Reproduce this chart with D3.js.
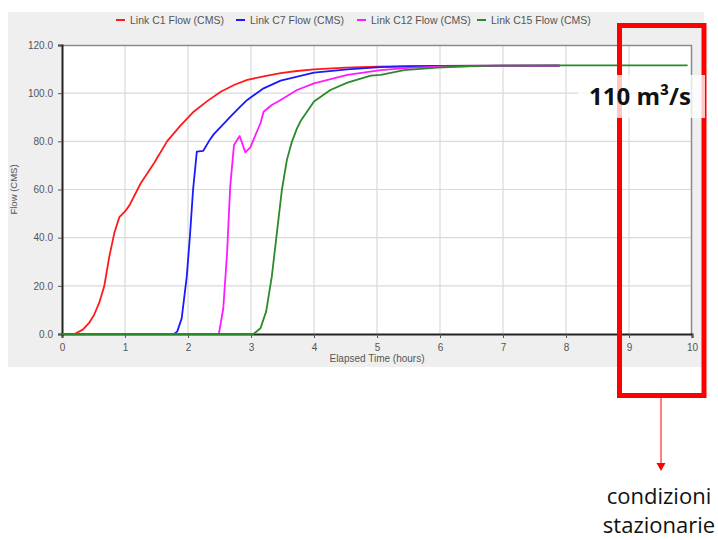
<!DOCTYPE html>
<html>
<head>
<meta charset="utf-8">
<script src="https://cdn.jsdelivr.net/npm/d3@7"></script>
<style>
  body { margin: 0; background: #fff; }
  svg { display: block; }
</style>
</head>
<body>
<div id="chart"></div>
<script>
// Series data
// ==============================
var seriesNames = ["Link C1 Flow (CMS)", "Link C7 Flow (CMS)", "Link C12 Flow (CMS)", "Link C15 Flow (CMS)"];
var seriesColors = ["#ff1a1a", "#1a1aff", "#ff1aff", "#2a8a2a"];

var c1Time = [0, 0.2, 0.33, 0.43, 0.51, 0.59, 0.67, 0.75, 0.83, 0.91, 1.0, 1.07, 1.25, 1.46, 1.67, 1.88, 2.09, 2.31, 2.52, 2.73, 2.94, 3.2, 3.47, 3.73, 4.0, 4.5, 5.0, 5.5, 6.0, 7.0, 7.9];
var c1Flow = [0, 0, 1.8, 4.6, 8, 12.9, 19.8, 32, 41.9, 48.5, 50.9, 53.4, 62.6, 70.9, 80.1, 86.5, 92.3, 96.8, 100.6, 103.4, 105.5, 107, 108.3, 109.2, 109.9, 110.6, 111, 111.2, 111.3, 111.4, 111.4];

var c7Time = [0, 1.78, 1.83, 1.9, 1.98, 2.03, 2.08, 2.14, 2.24, 2.35, 2.41, 2.52, 2.67, 2.83, 2.94, 3.2, 3.47, 4.0, 4.53, 5.06, 5.5, 6.0, 7.0, 7.9];
var c7Flow = [0, 0, 1.1, 6.5, 23.8, 40.4, 59.8, 75.7, 76, 80.8, 83, 86, 90.2, 94.4, 97.2, 102, 105.2, 108.5, 109.9, 110.8, 111.1, 111.3, 111.4, 111.4];

var c12Time = [0, 2.49, 2.56, 2.62, 2.67, 2.73, 2.82, 2.91, 2.99, 3.07, 3.15, 3.2, 3.33, 3.47, 3.73, 4.0, 4.53, 5.06, 5.5, 6.0, 7.0, 7.9];
var c12Flow = [0, 0, 10.7, 33.5, 61.2, 78.5, 82.2, 75.4, 77.5, 82.6, 87.5, 92.3, 95.1, 97.2, 101.3, 104.1, 107.6, 109.6, 110.5, 111, 111.3, 111.4];

var c15Time = [0, 3.04, 3.15, 3.24, 3.33, 3.41, 3.49, 3.57, 3.65, 3.73, 3.79, 4.0, 4.26, 4.53, 4.9, 5.06, 5.43, 5.96, 6.49, 7.0, 8.0, 9.0, 9.93];
var c15Flow = [0, 0, 2.4, 9.3, 23.8, 41.8, 59.8, 72.3, 79.9, 85.4, 88.5, 96.5, 101.3, 104.4, 107.3, 107.6, 109.6, 110.6, 111.2, 111.4, 111.5, 111.5, 111.5];

var xTicks = [0, 1, 2, 3, 4, 5, 6, 7, 8, 9, 10];
var yTicks = [0, 20, 40, 60, 80, 100, 120];

var annotationValue = "110 m³/s";
var annotationText = ["condizioni", "stazionarie"];

var seriesData = [
  c1Time.map((t, i) => ({ t: t, v: c1Flow[i] })),
  c7Time.map((t, i) => ({ t: t, v: c7Flow[i] })),
  c12Time.map((t, i) => ({ t: t, v: c12Flow[i] })),
  c15Time.map((t, i) => ({ t: t, v: c15Flow[i] }))
];

// SVG area
// ==============================
var svgWidth = 718;
var svgHeight = 540;

var margin = { top: 45, right: 26, bottom: 206, left: 62 };
var width = 692 - margin.left;
var height = 334 - margin.top;

var svg = d3.select("#chart")
  .append("svg")
  .attr("width", svgWidth)
  .attr("height", svgHeight);

// gray panel behind the chart
svg.append("rect")
  .attr("x", 8)
  .attr("y", 12)
  .attr("width", 696)
  .attr("height", 355)
  .attr("fill", "#efefef");

var chartGroup = svg.append("g")
  .attr("transform", `translate(${margin.left}, ${margin.top})`);

// Scales
// ==============================
var xScale = d3.scaleLinear().domain([0, 10]).range([0, width]);
var yScale = d3.scaleLinear().domain([0, 120]).range([height, 0]);

chartGroup.append("rect")
  .attr("width", width)
  .attr("height", height)
  .attr("fill", "#fff");

// Grid lines
chartGroup.append("g")
  .selectAll("line")
  .data(xTicks.slice(1, -1))
  .join("line")
  .attr("x1", d => xScale(d)).attr("x2", d => xScale(d))
  .attr("y1", 0).attr("y2", height)
  .attr("stroke", "#dadada")
  .attr("stroke-width", 1.2);

chartGroup.append("g")
  .selectAll("line")
  .data(yTicks.slice(1, -1))
  .join("line")
  .attr("x1", 0).attr("x2", width)
  .attr("y1", d => yScale(d)).attr("y2", d => yScale(d))
  .attr("stroke", "#dadada")
  .attr("stroke-width", 1.2);

// top and right frame
chartGroup.append("path")
  .attr("d", `M0,0.5H${width - 0.5}V${height}`)
  .attr("fill", "none")
  .attr("stroke", "#8a8a8a")
  .attr("stroke-width", 1.5);

// Axes
// ==============================
var xAxis = d3.axisBottom(xScale).tickValues(xTicks).tickSize(4).tickPadding(6).tickFormat(d3.format("d"));
var yAxis = d3.axisLeft(yScale).tickValues(yTicks).tickSize(4).tickPadding(5).tickFormat(d3.format(".1f"));

var xAxisG = chartGroup.append("g")
  .attr("transform", `translate(0, ${height})`)
  .call(xAxis);

var yAxisG = chartGroup.append("g")
  .call(yAxis);

[xAxisG, yAxisG].forEach(function(g) {
  g.select(".domain").attr("stroke", "#222").attr("stroke-width", 2);
  g.selectAll(".tick line").attr("stroke", "#555");
  g.selectAll(".tick text")
    .attr("fill", "#555")
    .style("font-family", "Liberation Sans, Arial, sans-serif")
    .style("font-size", "10px");
});

// Lines
// ==============================
var line = d3.line()
  .x(d => xScale(d.t))
  .y(d => yScale(d.v));

chartGroup.selectAll(".series")
  .data(seriesData)
  .join("path")
  .attr("class", "series")
  .attr("d", line)
  .attr("fill", "none")
  .attr("stroke", (d, i) => seriesColors[i])
  .attr("stroke-width", 1.8)
  .attr("stroke-linejoin", "round");

// Axis labels
// ==============================
chartGroup.append("text")
  .attr("transform", "rotate(-90)")
  .attr("x", -(height / 2))
  .attr("y", -margin.left + 17)
  .attr("text-anchor", "middle")
  .attr("fill", "#555")
  .style("font-family", "Liberation Sans, Arial, sans-serif")
  .style("font-size", "9.5px")
  .text("Flow (CMS)");

chartGroup.append("text")
  .attr("x", width / 2)
  .attr("y", height + 28)
  .attr("text-anchor", "middle")
  .attr("fill", "#555")
  .style("font-family", "Liberation Sans, Arial, sans-serif")
  .style("font-size", "10px")
  .text("Elapsed Time (hours)");

// Legend
// ==============================
var legendX = [116, 236, 357, 477];
var legend = svg.append("g")
  .selectAll("g")
  .data(seriesNames)
  .join("g")
  .attr("transform", (d, i) => `translate(${legendX[i]}, 20)`);

legend.append("line")
  .attr("x1", 0).attr("x2", 9)
  .attr("stroke", (d, i) => seriesColors[i])
  .attr("stroke-width", 2);

legend.append("text")
  .attr("x", 14)
  .attr("dy", "0.35em")
  .attr("fill", "#555")
  .style("font-family", "Liberation Sans, Arial, sans-serif")
  .style("font-size", "10.5px")
  .text(d => d);

// Annotation: red box, label and arrow
// ==============================
svg.append("rect")
  .attr("x", 619.5)
  .attr("y", 25.5)
  .attr("width", 84.5)
  .attr("height", 370)
  .attr("fill", "none")
  .attr("stroke", "#ff0000")
  .attr("stroke-width", 5);

svg.append("rect")
  .attr("x", 578)
  .attr("y", 75)
  .attr("width", 127)
  .attr("height", 43)
  .attr("fill", "#fff")
  .attr("opacity", 0.78);

svg.append("text")
  .attr("x", 589)
  .attr("y", 105)
  .attr("fill", "#111")
  .style("font-family", "Open Sans, sans-serif")
  .style("font-weight", "bold")
  .style("font-size", "24px")
  .text(annotationValue);

svg.append("line")
  .attr("x1", 661).attr("x2", 661)
  .attr("y1", 398).attr("y2", 464)
  .attr("stroke", "#ff0000")
  .attr("stroke-width", 1);

svg.append("path")
  .attr("d", "M656.5,463L665.5,463L661,471Z")
  .attr("fill", "#ff0000");

svg.append("g")
  .selectAll("text")
  .data(annotationText)
  .join("text")
  .attr("x", 659)
  .attr("y", (d, i) => 504 + i * 29)
  .attr("text-anchor", "middle")
  .attr("fill", "#111")
  .style("font-family", "Open Sans, sans-serif")
  .style("font-size", "22px")
  .text(d => d);
</script>
</body>
</html>
